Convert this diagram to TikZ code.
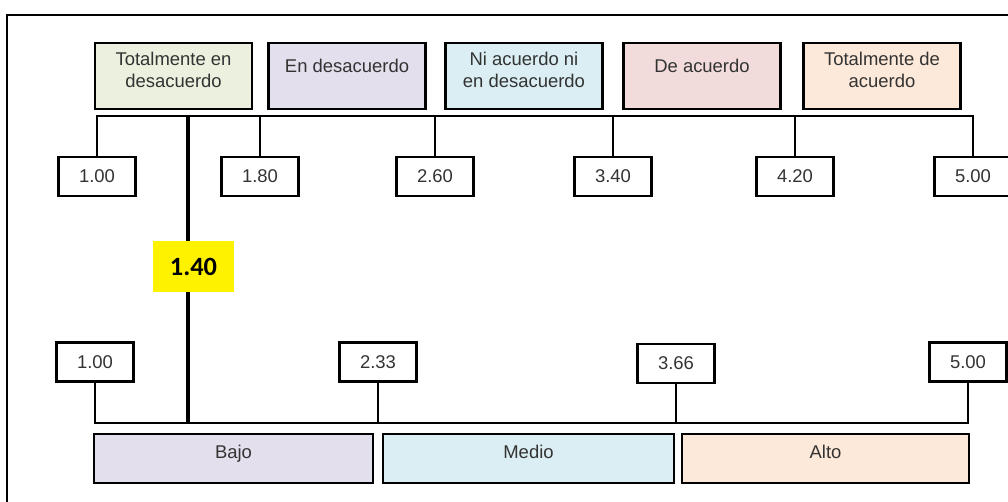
\documentclass[tikz,border=0pt]{standalone}
\usepackage{fontspec}
\setmainfont{Liberation Sans}
\newfontfamily\calfont{Carlito}

\definecolor{verdeclaro}{HTML}{EBF1DE}
\definecolor{lavanda}{HTML}{E4DFEC}
\definecolor{celeste}{HTML}{DAEEF3}
\definecolor{rosado}{HTML}{F2DCDB}
\definecolor{durazno}{HTML}{FDE9D9}

\begin{document}
\begin{tikzpicture}[x=0.02cm,y=-0.02cm,
    cat/.style={draw,line width=1.5pt,minimum width=3.14cm,minimum height=1.32cm,
      align=center,inner sep=2pt,text depth=6.5pt,text=black!80,
      font=\fontsize{10.5}{12.5}\selectfont},
    cat1/.style={cat,text depth=12pt},
    val/.style={draw,line width=1.5pt,fill=white,minimum width=1.54cm,minimum height=0.78cm,
      inner sep=1pt,text=black!80,font=\fontsize{10.5}{12.5}\selectfont},
    lvl/.style={draw,line width=1.5pt,minimum height=0.98cm,inner sep=1pt,
      text depth=8pt,text=black!80,font=\fontsize{10.5}{12.5}\selectfont},
    link/.style={line width=1.3pt},
    meanline/.style={line width=2pt}]

    \useasboundingbox (0,0) rectangle (1008,502);
    \draw[line width=1pt] (1008,15) -- (7,15) -- (7,502);

    % escala de acuerdo
    \node[cat,fill=verdeclaro] (tdes) at (173.5,76) {Totalmente en\\desacuerdo};
    \node[cat1,fill=lavanda] (edes) at (347,76) {En desacuerdo};
    \node[cat,fill=celeste] (nini) at (524,76) {Ni acuerdo ni\\en desacuerdo};
    \node[cat1,fill=rosado] (dac) at (702,76) {De acuerdo};
    \node[cat,fill=durazno] (tdac) at (882,76) {Totalmente de\\acuerdo};

    \node[val] (v100) at (97,176.5) {1.00};
    \node[val] (v180) at (260,176.5) {1.80};
    \node[val] (v260) at (435,176.5) {2.60};
    \node[val] (v340) at (613,176.5) {3.40};
    \node[val] (v420) at (795,176.5) {4.20};
    \node[val] (v500) at (973,176.5) {5.00};

    \coordinate (topbar) at (0,116);
    \draw[link] (v100.north) -- (v100.north |- topbar) -- (v500.north |- topbar) -- (v500.north);
    \draw[link] (v180.north) -- (v180.north |- topbar);
    \draw[link] (v260.north) -- (v260.north |- topbar);
    \draw[link] (v340.north) -- (v340.north |- topbar);
    \draw[link] (v420.north) -- (v420.north |- topbar);

    % niveles
    \node[val] (n100) at (95,362) {1.00};
    \node[val] (n233) at (378,362) {2.33};
    \node[val] (n366) at (676,363.5) {3.66};
    \node[val] (n500) at (968,362) {5.00};

    \node[lvl,fill=lavanda,minimum width=5.58cm] (bajo) at (233.5,458.5) {Bajo};
    \node[lvl,fill=celeste,minimum width=5.82cm] (medio) at (528.5,458.5) {Medio};
    \node[lvl,fill=durazno,minimum width=5.74cm] (alto) at (825.5,458.5) {Alto};

    \coordinate (botbar) at (0,423);
    \draw[link] (n100.south) -- (n100.south |- botbar) -- (n500.south |- botbar) -- (n500.south);
    \draw[link] (n233.south) -- (n233.south |- botbar);
    \draw[link] (n366.south) -- (n366.south |- botbar);

    % media
    \node[fill=yellow,minimum width=1.62cm,minimum height=1.02cm,inner sep=1pt,
      font=\calfont\bfseries\fontsize{15}{18}\selectfont] (media) at (193.5,266.5) {1.40};
    \coordinate (pmedia) at (188,116);
    \draw[meanline] (pmedia) -- (pmedia |- media.north);
    \draw[meanline] (pmedia |- media.south) -- (pmedia |- botbar);
\end{tikzpicture}
\end{document}
